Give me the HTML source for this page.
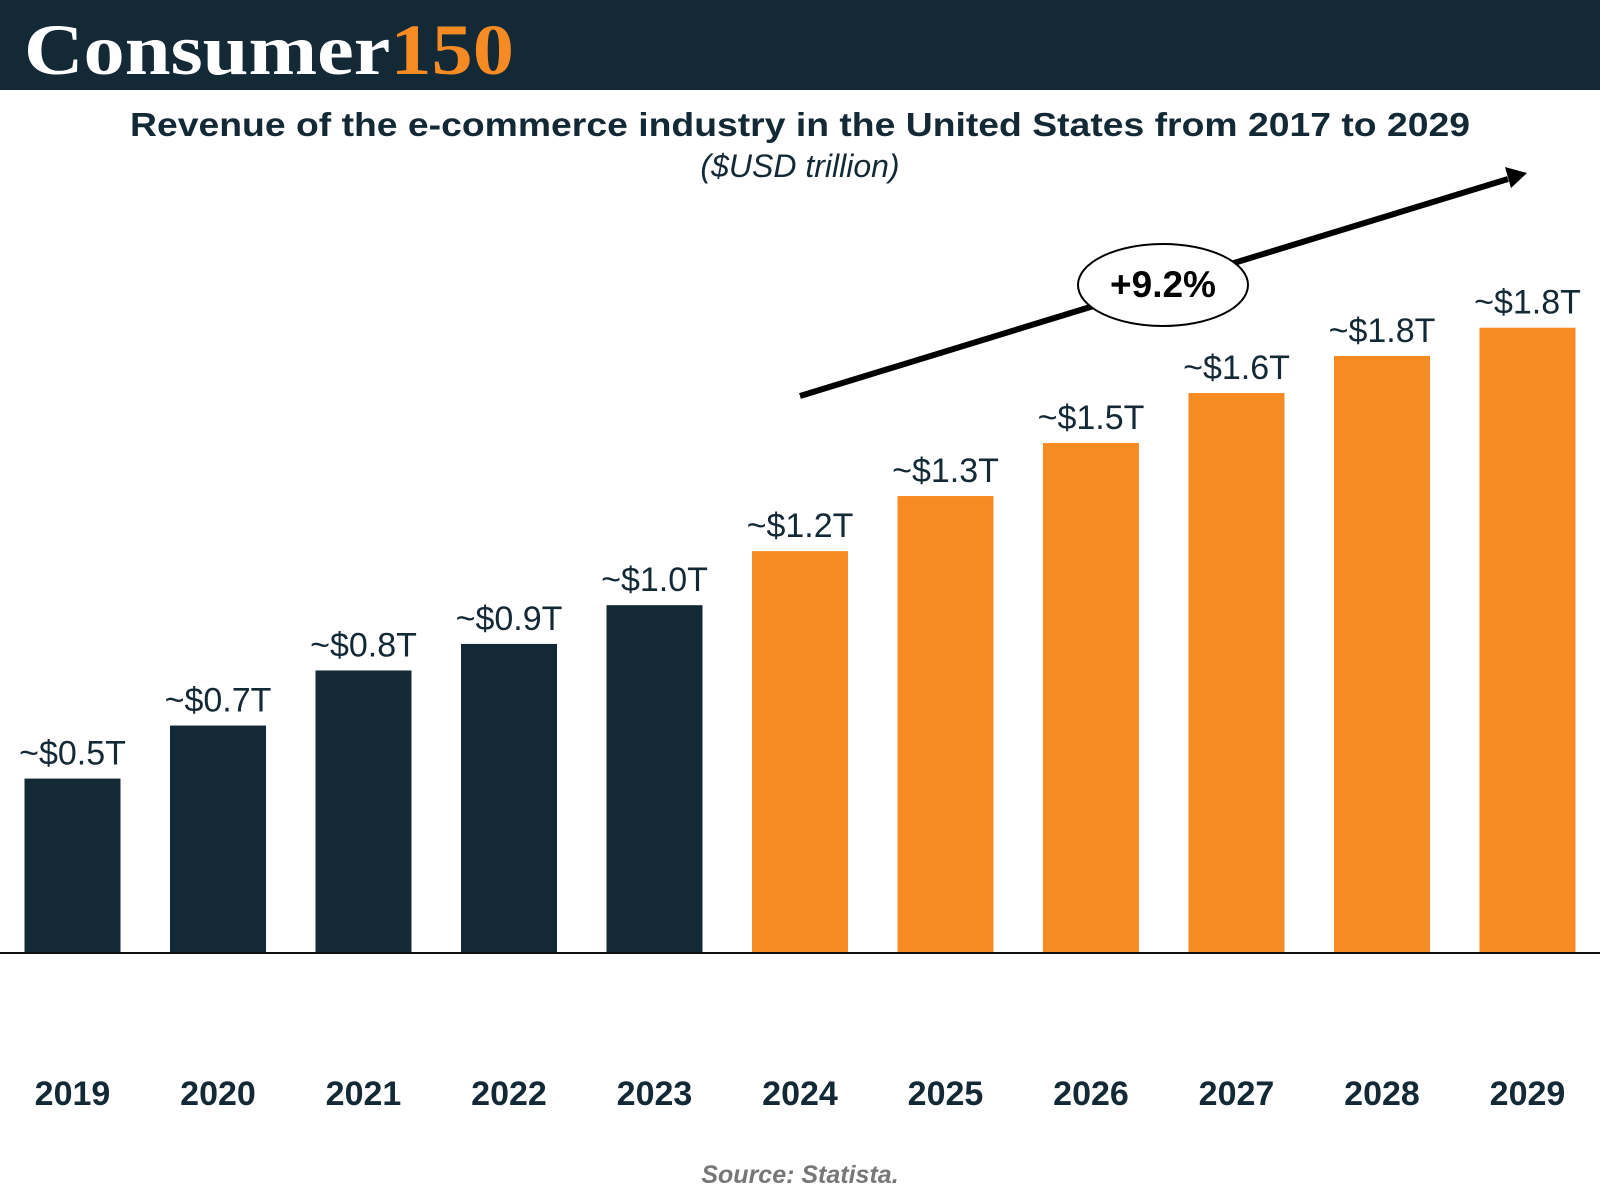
<!DOCTYPE html>
<html><head><meta charset="utf-8"><style>
html,body{margin:0;padding:0;background:#fff;}
svg{display:block;}
</style></head><body>
<svg id="chart" width="1600" height="1200" viewBox="0 0 1600 1200" xmlns="http://www.w3.org/2000/svg">
<rect x="0" y="0" width="1600" height="90" fill="#142936"/>
<text x="24" y="74" font-family="Liberation Serif, serif" font-weight="bold" font-size="72" textLength="490" lengthAdjust="spacingAndGlyphs"><tspan fill="#ffffff">Consumer</tspan><tspan fill="#f68b24">150</tspan></text>
<text x="800" y="136" text-anchor="middle" font-family="Liberation Sans, sans-serif" font-weight="bold" font-size="33" fill="#142936" textLength="1340" lengthAdjust="spacingAndGlyphs">Revenue of the e-commerce industry in the United States from 2017 to 2029</text>
<text x="800" y="177" text-anchor="middle" font-family="Liberation Sans, sans-serif" font-style="italic" font-size="32" fill="#142936">($USD trillion)</text>
<g id="bars"></g>
<line x1="0" y1="953" x2="1600" y2="953" stroke="#111" stroke-width="2"/>
<line x1="800" y1="396" x2="1508" y2="179" stroke="#000" stroke-width="6"/>
<polygon points="1527,173 1505,167 1511,188" fill="#000"/>
<ellipse cx="1163" cy="285" rx="85" ry="41" fill="#fff" stroke="#000" stroke-width="2"/>
<text x="1163" y="297" text-anchor="middle" font-family="Liberation Sans, sans-serif" font-weight="bold" font-size="37" fill="#000">+9.2%</text>
<text x="800" y="1183" text-anchor="middle" font-family="Liberation Sans, sans-serif" font-style="italic" font-weight="bold" font-size="25" fill="#777">Source: Statista.</text>
</svg>
<script>
const years = ["2019","2020","2021","2022","2023","2024","2025","2026","2027","2028","2029"];
const values = [0.513,0.669,0.831,0.909,1.023,1.182,1.344,1.5,1.647,1.756,1.839];
const valueLabels = ["~$0.5T","~$0.7T","~$0.8T","~$0.9T","~$1.0T","~$1.2T","~$1.3T","~$1.5T","~$1.6T","~$1.8T","~$1.8T"];
const forecast = [false,false,false,false,false,true,true,true,true,true,true];

const NS = "http://www.w3.org/2000/svg";
const baseY = 953, pxPerT = 340, x0 = 24.5, pitch = 145.5, bw = 96;
function xPos(i){ return x0 + i*pitch; }
function yPos(v){ return baseY - v*pxPerT; }
const g = document.getElementById('bars');
years.forEach((yr,i)=>{
  const top = yPos(values[i]);
  const r = document.createElementNS(NS,'rect');
  r.setAttribute('x', xPos(i)); r.setAttribute('y', top);
  r.setAttribute('width', bw); r.setAttribute('height', baseY - top);
  r.setAttribute('fill', forecast[i] ? '#f68b24' : '#142936');
  
  
  g.appendChild(r);
  const t = document.createElementNS(NS,'text');
  t.setAttribute('x', xPos(i)+bw/2); t.setAttribute('y', top-14);
  t.setAttribute('text-anchor','middle');
  t.setAttribute('font-family','Liberation Sans, sans-serif');
  t.setAttribute('font-size','34'); t.setAttribute('fill','#142936');
  t.textContent = valueLabels[i];
  
  
  g.appendChild(t);
  const y = document.createElementNS(NS,'text');
  y.setAttribute('x', xPos(i)+bw/2); y.setAttribute('y', 1105);
  y.setAttribute('text-anchor','middle');
  y.setAttribute('font-family','Liberation Sans, sans-serif');
  y.setAttribute('font-weight','bold');
  y.setAttribute('font-size','34'); y.setAttribute('fill','#142936');
  y.textContent = yr;
  
  
  g.appendChild(y);
});
</script>
</body></html>
